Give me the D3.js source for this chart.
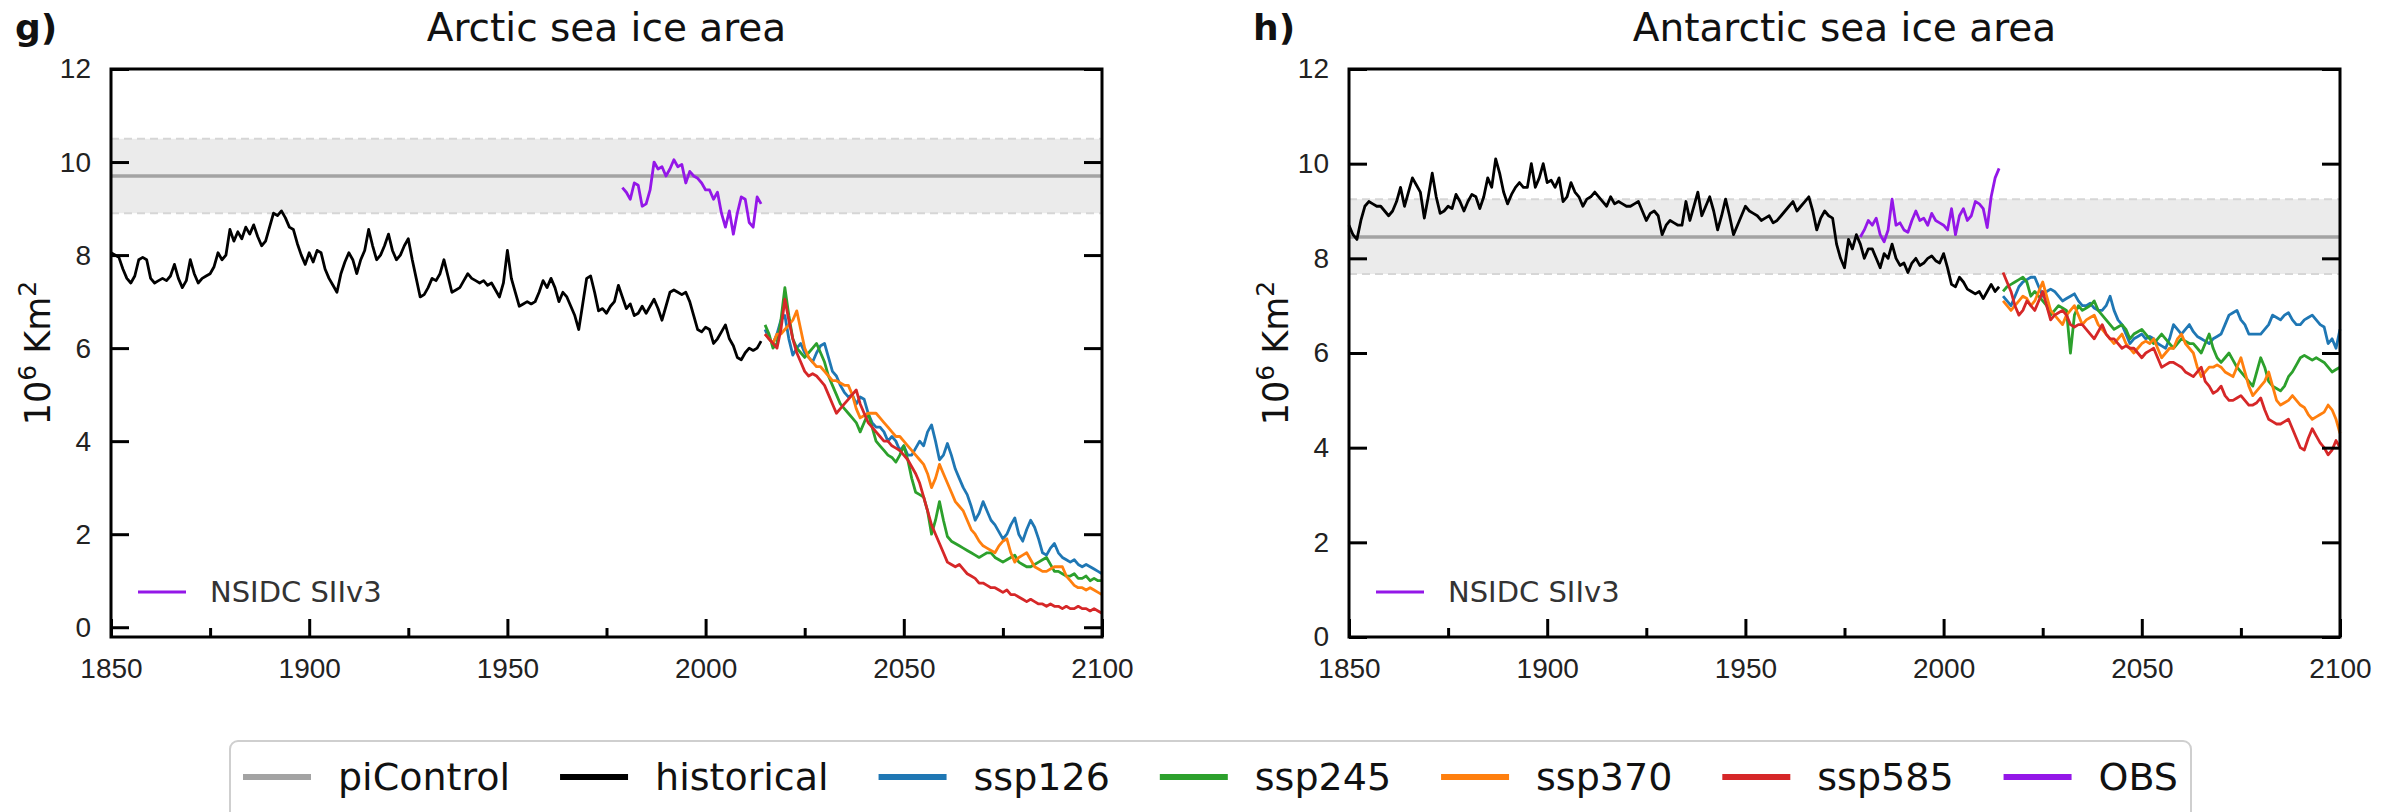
<!DOCTYPE html>
<meta charset="utf-8">
<style>
body { margin: 0; background: #fff; }
svg { display: block; font-family: 'DejaVu Sans', sans-serif; }
.tick text { font-size: 28px; fill: #222; }
.tick line { stroke: #000; stroke-width: 3px; }
.domain { display: none; }
</style>
<svg width="2407" height="812"></svg>
<script src="https://d3js.org/d3.v7.min.js"></script>
<script>
// ---- data (10^6 km^2) ----
var histStart = 1850, sspStart = 2015, obsStart = 1979;

var arcticHist = [
  8.05,8.0,7.95,7.7,7.5,7.4,7.55,7.9,7.95,7.9,
  7.5,7.4,7.45,7.5,7.45,7.55,7.8,7.5,7.3,7.45,
  7.9,7.6,7.4,7.5,7.55,7.6,7.75,8.05,7.9,8.0,
  8.55,8.3,8.5,8.35,8.6,8.45,8.65,8.4,8.2,8.3,
  8.6,8.9,8.85,8.95,8.8,8.6,8.55,8.25,8.0,7.8,
  8.05,7.85,8.1,8.05,7.7,7.5,7.35,7.2,7.6,7.85,
  8.05,7.9,7.6,7.9,8.1,8.55,8.2,7.9,8.0,8.2,
  8.45,8.1,7.9,8.0,8.2,8.35,7.9,7.5,7.1,7.15,
  7.3,7.5,7.45,7.6,7.9,7.55,7.2,7.25,7.3,7.45,
  7.6,7.5,7.45,7.4,7.45,7.35,7.4,7.25,7.1,7.4,
  8.1,7.5,7.2,6.9,6.95,7.0,6.95,7.0,7.2,7.45,
  7.3,7.5,7.3,7.0,7.2,7.1,6.9,6.7,6.4,6.95,
  7.5,7.55,7.2,6.8,6.85,6.75,6.9,7.0,7.35,7.1,
  6.85,6.95,6.7,6.75,6.9,6.75,6.9,7.05,6.85,6.6,
  6.9,7.2,7.25,7.2,7.15,7.2,7.0,6.7,6.4,6.35,
  6.45,6.4,6.1,6.2,6.35,6.5,6.2,6.05,5.8,5.75,
  5.9,6.0,5.95,6.0,6.15
];
var arcticSsp126 = [
  6.4,6.2,6.1,6.3,6.6,6.7,6.2,5.85,6.0,6.1,
  5.9,5.8,5.7,5.9,6.05,6.1,5.8,5.5,5.4,5.2,
  5.05,4.95,5.0,4.8,4.95,4.9,4.6,4.4,4.3,4.3,
  4.2,4.0,4.1,4.0,3.8,3.9,3.7,3.7,3.85,4.0,
  3.9,4.2,4.35,4.0,3.6,3.7,3.95,3.7,3.4,3.2,
  3.0,2.85,2.6,2.3,2.45,2.7,2.5,2.3,2.2,2.05,
  1.9,2.0,2.2,2.35,2.0,1.85,2.1,2.3,2.15,1.9,
  1.6,1.55,1.7,1.8,1.6,1.5,1.45,1.4,1.45,1.35,
  1.3,1.35,1.3,1.25,1.2,1.15
];
var arcticSsp245 = [
  6.5,6.3,6.0,6.1,6.6,7.3,6.7,6.2,6.0,5.9,
  5.8,5.9,6.0,6.1,5.9,5.7,5.4,5.2,5.0,4.8,
  4.7,4.6,4.5,4.4,4.2,4.4,4.6,4.3,4.0,3.9,
  3.8,3.7,3.65,3.55,3.7,3.9,3.6,3.2,2.9,2.85,
  2.8,2.5,2.0,2.3,2.7,2.3,1.95,1.85,1.8,1.75,
  1.7,1.65,1.6,1.55,1.5,1.55,1.6,1.6,1.5,1.45,
  1.4,1.45,1.5,1.55,1.4,1.35,1.3,1.3,1.35,1.4,
  1.45,1.5,1.35,1.2,1.2,1.15,1.1,1.1,1.15,1.05,
  1.05,1.1,1.0,1.05,1.0,1.0
];
var arcticSsp370 = [
  6.3,6.2,6.1,6.3,6.3,6.4,6.5,6.6,6.8,6.4,
  6.0,5.8,5.7,5.6,5.6,5.5,5.4,5.3,5.3,5.25,
  5.2,5.2,5.0,4.7,4.5,4.55,4.6,4.6,4.6,4.5,
  4.4,4.3,4.2,4.1,4.1,4.0,3.9,3.8,3.7,3.6,
  3.5,3.3,3.0,3.2,3.5,3.3,3.1,2.9,2.7,2.6,
  2.5,2.3,2.1,2.0,1.85,1.75,1.7,1.65,1.6,1.75,
  1.85,1.9,1.6,1.4,1.5,1.55,1.6,1.45,1.3,1.25,
  1.2,1.2,1.25,1.3,1.3,1.3,1.1,1.0,0.9,0.85,
  0.85,0.8,0.85,0.8,0.75,0.7
];
var arcticSsp585 = [
  6.3,6.2,6.1,6.0,6.4,7.05,6.6,6.2,5.9,5.7,
  5.5,5.4,5.45,5.4,5.3,5.2,5.0,4.8,4.6,4.7,
  4.8,4.9,5.0,5.1,4.8,4.6,4.4,4.3,4.2,4.1,
  4.0,4.0,3.9,3.85,3.8,3.7,3.6,3.45,3.3,3.1,
  2.8,2.5,2.2,2.0,1.8,1.6,1.4,1.35,1.3,1.35,
  1.25,1.15,1.1,1.05,0.95,0.95,0.9,0.85,0.85,0.8,
  0.75,0.8,0.7,0.7,0.65,0.6,0.55,0.6,0.55,0.5,
  0.5,0.45,0.5,0.45,0.45,0.4,0.45,0.4,0.4,0.45,
  0.4,0.4,0.35,0.4,0.35,0.3
];
var arcticObs = [
  9.45,9.35,9.2,9.55,9.5,9.05,9.1,9.4,10.0,9.85,
  9.9,9.7,9.85,10.05,9.9,9.95,9.55,9.8,9.7,9.65,
  9.55,9.4,9.4,9.2,9.35,8.9,8.6,8.95,8.45,8.9,
  9.25,9.2,8.7,8.6,9.25,9.1
];
var arcticPi = [8.9, 9.7, 10.5]; // low, mean, high

var antarcticHist = [
  8.7,8.5,8.4,8.8,9.1,9.2,9.15,9.1,9.1,9.0,
  8.9,9.0,9.2,9.5,9.1,9.4,9.7,9.55,9.4,8.85,
  9.3,9.8,9.3,8.95,9.0,9.1,9.05,9.35,9.2,9.0,
  9.2,9.35,9.3,9.05,9.3,9.7,9.5,10.1,9.8,9.4,
  9.15,9.35,9.5,9.6,9.5,9.5,10.0,9.5,9.7,10.0,
  9.6,9.65,9.5,9.7,9.2,9.3,9.6,9.4,9.3,9.1,
  9.25,9.3,9.4,9.3,9.2,9.1,9.3,9.15,9.2,9.15,
  9.1,9.1,9.15,9.2,9.0,8.8,8.95,9.0,8.9,8.5,
  8.7,8.8,8.75,8.7,8.7,9.2,8.8,9.1,9.4,8.9,
  9.1,9.3,9.0,8.6,8.9,9.25,8.9,8.5,8.7,8.9,
  9.1,9.0,8.95,8.9,8.8,8.85,8.9,8.75,8.8,8.9,
  9.0,9.1,9.2,9.0,9.1,9.2,9.3,9.0,8.6,8.85,
  9.0,8.9,8.85,8.3,8.0,7.8,8.4,8.2,8.5,8.3,
  8.0,8.2,8.2,8.0,7.8,8.1,8.0,8.3,8.0,7.85,
  7.9,7.7,7.9,8.0,7.85,7.9,8.0,8.05,7.95,7.9,
  8.1,7.8,7.45,7.4,7.6,7.5,7.35,7.3,7.25,7.3,
  7.15,7.3,7.45,7.3,7.4
];
var antarcticSsp126 = [
  7.2,7.1,7.0,7.2,7.4,7.5,7.55,7.6,7.6,7.4,
  7.2,7.3,7.35,7.3,7.2,7.1,7.15,7.2,7.25,7.1,
  7.0,7.0,7.05,6.95,6.9,6.9,7.0,7.2,6.9,6.7,
  6.6,6.4,6.2,6.3,6.35,6.4,6.3,6.35,6.3,6.2,
  6.15,6.1,6.3,6.6,6.5,6.4,6.5,6.6,6.45,6.35,
  6.3,6.25,6.2,6.3,6.35,6.4,6.6,6.8,6.85,6.9,
  6.7,6.6,6.4,6.4,6.4,6.4,6.5,6.6,6.8,6.75,
  6.7,6.8,6.85,6.7,6.6,6.6,6.7,6.75,6.8,6.7,
  6.6,6.55,6.2,6.3,6.1,6.5
];
var antarcticSsp245 = [
  7.3,7.4,7.45,7.5,7.55,7.6,7.5,7.2,7.3,7.2,
  7.1,7.0,6.8,6.9,7.0,6.95,6.9,6.0,6.8,7.0,
  6.9,6.95,7.0,7.1,6.9,6.8,6.7,6.6,6.5,6.55,
  6.6,6.5,6.3,6.4,6.45,6.5,6.4,6.3,6.2,6.3,
  6.4,6.3,6.2,6.1,6.2,6.3,6.25,6.2,6.2,6.1,
  6.0,6.2,6.4,6.1,5.9,5.8,5.9,6.0,5.85,5.7,
  5.6,5.5,5.4,5.3,5.6,5.9,5.7,5.4,5.3,5.25,
  5.2,5.3,5.5,5.6,5.75,5.9,5.95,5.9,5.85,5.9,
  5.85,5.8,5.7,5.6,5.65,5.7
];
var antarcticSsp370 = [
  7.1,7.0,6.9,7.0,7.1,7.2,7.15,7.0,7.1,7.3,
  7.5,7.2,6.9,6.8,6.7,6.6,6.8,6.9,7.0,6.8,
  6.6,6.7,6.75,6.8,6.6,6.5,6.4,6.3,6.2,6.3,
  6.4,6.2,6.1,6.0,6.1,6.2,6.25,6.2,6.3,6.1,
  5.9,6.0,6.1,6.1,6.3,6.4,6.2,6.1,6.0,5.7,
  5.5,5.6,5.7,5.7,5.75,5.7,5.6,5.55,5.5,5.7,
  5.9,5.6,5.3,5.1,5.2,5.3,5.4,5.6,5.3,5.0,
  4.9,4.95,5.0,5.1,5.0,4.9,4.85,4.7,4.6,4.65,
  4.7,4.75,4.9,4.8,4.6,4.3
];
var antarcticSsp585 = [
  7.7,7.5,7.3,7.0,6.8,6.9,7.1,7.0,6.9,7.1,
  7.3,7.0,6.7,6.8,6.85,6.9,6.8,6.6,6.55,6.6,
  6.6,6.5,6.4,6.3,6.45,6.6,6.4,6.3,6.3,6.2,
  6.1,6.15,6.1,6.1,6.0,5.9,6.0,6.05,6.1,5.9,
  5.7,5.75,5.8,5.8,5.75,5.7,5.6,5.55,5.5,5.6,
  5.7,5.4,5.3,5.15,5.2,5.3,5.1,5.0,5.0,5.05,
  5.1,5.0,4.9,4.9,4.95,5.05,4.8,4.6,4.55,4.5,
  4.5,4.55,4.6,4.4,4.2,4.0,3.95,4.2,4.4,4.25,
  4.1,4.0,3.85,3.95,4.15,4.0
];
var antarcticObs = [
  8.45,8.6,8.8,8.7,8.85,8.5,8.35,8.6,9.25,8.7,
  8.75,8.6,8.55,8.8,9.0,8.8,8.85,8.7,8.95,8.8,
  8.75,8.7,8.6,9.05,8.5,8.9,9.05,8.8,8.9,9.2,
  9.15,9.05,8.65,9.3,9.7,9.9
];
var antarcticPi = [7.67, 8.45, 9.25];

var xTicks = [1850, 1900, 1950, 2000, 2050, 2100];
var xMinor = [1875, 1925, 1975, 2025, 2075];
var yTicks = [0, 2, 4, 6, 8, 10, 12];

var legendNames = ["piControl", "historical", "ssp126", "ssp245", "ssp370", "ssp585", "OBS"];
var colors = {
  piControl: "#a3a3a3", historical: "#000000", ssp126: "#1f77b4", ssp245: "#2ca02c",
  ssp370: "#ff7f0e", ssp585: "#d62728", OBS: "#9417e8"
};

var svg = d3.select("svg");

function drawPanel(p) {
  var g = svg.append("g").attr("transform", "translate(" + p.left + "," + p.top + ")");
  var w = p.width, h = p.height;
  var x = d3.scaleLinear().domain([1850, 2100]).range([0, w]);
  var y = d3.scaleLinear().domain(p.ydom).range([h, 0]);

  // piControl band
  g.append("rect")
    .attr("x", 0).attr("width", w)
    .attr("y", y(p.pi[2])).attr("height", y(p.pi[0]) - y(p.pi[2]))
    .attr("fill", "#ebebeb");
  [p.pi[0], p.pi[2]].forEach(function(v) {
    g.append("line").attr("x1", 0).attr("x2", w).attr("y1", y(v)).attr("y2", y(v))
      .attr("stroke", "#d6d6d6").attr("stroke-width", 2).attr("stroke-dasharray", "8,5");
  });
  g.append("line").attr("x1", 0).attr("x2", w).attr("y1", y(p.pi[1])).attr("y2", y(p.pi[1]))
    .attr("stroke", colors.piControl).attr("stroke-width", 3.5);

  var line = d3.line().x(function(d) { return x(d[0]); }).y(function(d) { return y(d[1]); });
  function series(arr, start) { return arr.map(function(v, i) { return [start + i, v]; }); }

  var lines = [
    [p.hist, histStart, colors.historical],
    [p.ssp126, sspStart, colors.ssp126],
    [p.ssp245, sspStart, colors.ssp245],
    [p.ssp370, sspStart, colors.ssp370],
    [p.ssp585, sspStart, colors.ssp585],
    [p.obs, obsStart, colors.OBS]
  ];
  lines.forEach(function(l) {
    g.append("path").datum(series(l[0], l[1]))
      .attr("d", line).attr("fill", "none")
      .attr("stroke", l[2]).attr("stroke-width", 2.8).attr("stroke-linejoin", "round");
  });

  // axes, ticks pointing inward
  g.append("g").attr("transform", "translate(0," + h + ")")
    .call(d3.axisBottom(x).tickValues(xTicks).tickSize(-18).tickPadding(14).tickFormat(d3.format("d")))
    .selectAll("text").attr("dy", "0.95em");
  g.append("g").attr("transform", "translate(0," + h + ")")
    .call(d3.axisBottom(x).tickValues(xMinor).tickSize(-9).tickFormat(""));
  g.append("g")
    .call(d3.axisLeft(y).tickValues(yTicks).tickSize(-18).tickPadding(20));
  g.append("g").attr("transform", "translate(" + w + ",0)")
    .call(d3.axisRight(y).tickValues(yTicks).tickSize(-18).tickFormat(""));

  g.append("rect").attr("width", w).attr("height", h)
    .attr("fill", "none").attr("stroke", "#000").attr("stroke-width", 3);

  // titles
  svg.append("text").attr("x", p.left + w / 2).attr("y", 41)
    .attr("text-anchor", "middle").attr("font-size", 39).attr("fill", "#111").text(p.title);
  svg.append("text").attr("x", p.tagX).attr("y", 40)
    .attr("font-size", 36).attr("font-weight", "bold").attr("fill", "#111").text(p.tag);

  var yl = svg.append("text")
    .attr("transform", "translate(" + (p.left - 61) + "," + (p.top + h / 2) + ") rotate(-90)")
    .attr("text-anchor", "middle").attr("font-size", 35).attr("fill", "#111");
  yl.append("tspan").text("10");
  yl.append("tspan").attr("dy", -14).attr("font-size", 25).text("6");
  yl.append("tspan").attr("dy", 14).text(" Km");
  yl.append("tspan").attr("dy", -14).attr("font-size", 25).text("2");

  // in-panel legend
  g.append("line").attr("x1", 27).attr("x2", 75).attr("y1", h - 45).attr("y2", h - 45)
    .attr("stroke", colors.OBS).attr("stroke-width", 3);
  g.append("text").attr("x", 99).attr("y", h - 45).attr("dy", "0.35em")
    .attr("font-size", 29).attr("fill", "#333").text("NSIDC SIIv3");
}

drawPanel({
  left: 111, top: 69, width: 991, height: 568, ydom: [-0.21, 12],
  title: "Arctic sea ice area", tag: "g)", tagX: 15,
  hist: arcticHist, ssp126: arcticSsp126, ssp245: arcticSsp245,
  ssp370: arcticSsp370, ssp585: arcticSsp585, obs: arcticObs, pi: arcticPi
});
drawPanel({
  left: 1349, top: 69, width: 991, height: 568, ydom: [0, 12],
  title: "Antarctic sea ice area", tag: "h)", tagX: 1253,
  hist: antarcticHist, ssp126: antarcticSsp126, ssp245: antarcticSsp245,
  ssp370: antarcticSsp370, ssp585: antarcticSsp585, obs: antarcticObs, pi: antarcticPi
});

// bottom legend
var fs = 38, handleLen = 68, handlePad = 27, colGap = 50;
var lg = svg.append("g");
var box = lg.append("rect").attr("y", 741).attr("height", 80).attr("rx", 8)
  .attr("fill", "#fff").attr("stroke", "#cfcfcf").attr("stroke-width", 2);
var cx = 0;
var items = lg.append("g");
legendNames.forEach(function(name) {
  items.append("line").attr("x1", cx).attr("x2", cx + handleLen).attr("y1", 777).attr("y2", 777)
    .attr("stroke", colors[name]).attr("stroke-width", 6);
  var t = items.append("text").attr("x", cx + handleLen + handlePad).attr("y", 777).attr("dy", "0.35em")
    .attr("font-size", fs).attr("fill", "#111").text(name);
  cx += handleLen + handlePad + t.node().getComputedTextLength() + colGap;
});
var total = cx - colGap;
var startX = 243;
items.attr("transform", "translate(" + startX + ",0)");
box.attr("x", startX - 13).attr("width", total + 26);
</script>
